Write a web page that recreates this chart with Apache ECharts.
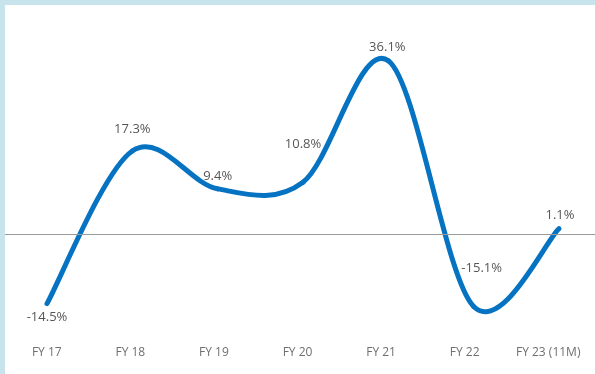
<!DOCTYPE html>
<html>
<head>
<meta charset="utf-8">
<script src="https://cdn.jsdelivr.net/npm/echarts@6/dist/echarts.min.js"></script>
<style>
 html, body { margin: 0; padding: 0; width: 595px; height: 374px; background: #c7e4ed; overflow: hidden; }
 #chart { position: absolute; left: 5px; top: 5px; width: 590px; height: 369px; background: #fff; }
</style>
</head>
<body>
<div id="chart"></div>
<script>
const categories = ['FY 17', 'FY 18', 'FY 19', 'FY 20', 'FY 21', 'FY 22', 'FY 23 (11M)']
const growth = [-14.5, 17.3, 9.4, 10.8, 36.1, -15.1, 1.1]
// label offset from its point, in px
const labelOffsets = [[0, 14], [0, -22], [0, -13], [0, -38], [-1, -13], [8, -38], [1, -13]]

const LINE_COLOR = '#0573c1'
const chart = echarts.init(document.getElementById('chart'))

// Catmull-Rom style segment, like the spreadsheet smoothed line
function renderSegment(params, api) {
 const i = params.dataIndex
 const n = growth.length
 if (i >= n - 1) return null
 const pt = k => api.coord([Math.min(Math.max(k, 0), n - 1), growth[Math.min(Math.max(k, 0), n - 1)]])
 const p0 = pt(i - 1), p1 = pt(i), p2 = pt(i + 1), p3 = pt(i + 2)
 return {
  type: 'bezierCurve',
  shape: {
   x1: p1[0], y1: p1[1],
   cpx1: p1[0] + (p2[0] - p0[0]) / 6, cpy1: p1[1] + (p2[1] - p0[1]) / 6,
   cpx2: p2[0] - (p3[0] - p1[0]) / 6, cpy2: p2[1] - (p3[1] - p1[1]) / 6,
   x2: p2[0], y2: p2[1]
  },
  style: { stroke: LINE_COLOR, lineWidth: 5, fill: null, lineCap: 'round' }
 }
}

const option = {
 animation: false,
 textStyle: { fontFamily: 'Open Sans' },
 grid: [
  { left: 0, right: 5, top: 37, bottom: 44 },   // category labels
  { left: 42, right: 36, top: 37, bottom: 44 }, // the line
  { left: 0, right: 0, top: 37, bottom: 44 }    // zero line, full width
 ],
 xAxis: [
  {
   type: 'category',
   gridIndex: 0,
   data: categories,
   boundaryGap: true,
   axisLine: { show: false },
   axisTick: { show: false },
   axisLabel: { color: '#6f6f6f', fontSize: 12, margin: 17, interval: 0 }
  },
  { type: 'category', gridIndex: 1, data: categories, boundaryGap: false, show: false },
  { type: 'category', gridIndex: 2, data: categories, show: false }
 ],
 yAxis: [
  { type: 'value', gridIndex: 0, min: -20, max: 40, show: false },
  { type: 'value', gridIndex: 1, min: -20, max: 40, show: false },
  { type: 'value', gridIndex: 2, min: -20, max: 40, show: false }
 ],
 series: [
  {
   type: 'line',
   xAxisIndex: 2,
   yAxisIndex: 2,
   data: [],
   markLine: {
    silent: true,
    symbol: 'none',
    label: { show: false },
    lineStyle: { color: '#9a9a9a', width: 1, type: 'solid' },
    data: [{ yAxis: 0 }]
   }
  },
  {
   type: 'custom',
   xAxisIndex: 1,
   yAxisIndex: 1,
   renderItem: renderSegment,
   encode: { x: 0, y: 1 },
   data: growth.map((v, i) => [i, v])
  },
  {
   type: 'scatter',
   xAxisIndex: 1,
   yAxisIndex: 1,
   symbolSize: 1,
   itemStyle: { color: 'rgba(0,0,0,0)' },
   data: growth.map((v, i) => ({
    value: [i, v],
    label: { offset: labelOffsets[i] }
   })),
   label: {
    show: true,
    position: 'inside',
    color: '#2b2b2b',
    fontSize: 13,
    formatter: p => p.value[1].toFixed(1) + '%'
   }
  }
 ]
}
chart.setOption(option)
</script>
</body>
</html>
